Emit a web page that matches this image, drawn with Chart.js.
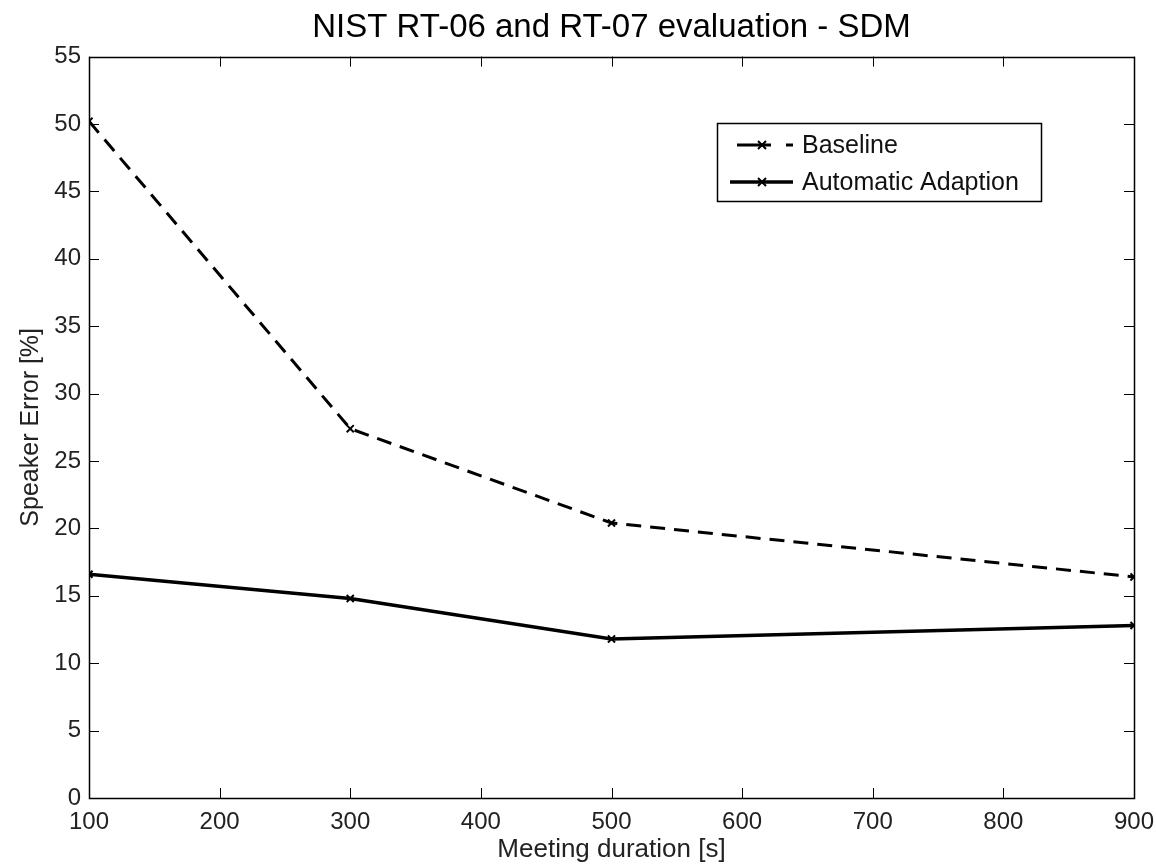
<!DOCTYPE html>
<html>
  <head>
    <meta charset="utf-8">
    <script src="https://cdn.jsdelivr.net/npm/chart.js@4.4.1/dist/chart.umd.min.js"></script>
    <style>
      html, body { margin: 0; padding: 0; background: #fff; }
      #wrap { width: 1156px; height: 865px; }
    </style>
  </head>
  <body>
    <div id="wrap"><canvas id="myChart" width="1156" height="865"></canvas></div>
    <script>
      // data
      var durations = [100, 300, 500, 900];
      var baseline = [50.2, 27.4, 20.4, 16.4];
      var automatic = [16.6, 14.8, 11.8, 12.8];
      var xTicks = [100, 200, 300, 400, 500, 600, 700, 800, 900];
      var yTicks = [0, 5, 10, 15, 20, 25, 30, 35, 40, 45, 50, 55];
      var seriesNames = ["Baseline", "Automatic Adaption"];

      var FONT = "'Liberation Sans', Arial, sans-serif";

      function pts(xs, ys) {
        return xs.map(function(x, i) { return { x: x, y: ys[i] }; });
      }

      // box round the plot + inward ticks on all four sides, like matlab
      var boxTicks = {
        id: "boxTicks",
        afterDraw: function(chart) {
          var ctx = chart.ctx, a = chart.chartArea;
          var xs = chart.scales.x, ys = chart.scales.y;
          var len = 10;
          ctx.save();
          ctx.strokeStyle = "#000";
          ctx.lineWidth = 1;
          ctx.beginPath();
          xTicks.forEach(function(v) {
            var px = Math.round(xs.getPixelForValue(v)) + 0.5;
            ctx.moveTo(px, a.bottom); ctx.lineTo(px, a.bottom - len);
            ctx.moveTo(px, a.top); ctx.lineTo(px, a.top + len);
          });
          yTicks.forEach(function(v) {
            var py = Math.round(ys.getPixelForValue(v)) + 0.5;
            ctx.moveTo(a.left, py); ctx.lineTo(a.left + len, py);
            ctx.moveTo(a.right, py); ctx.lineTo(a.right - len, py);
          });
          ctx.stroke();
          ctx.lineWidth = 1.5;
          ctx.strokeRect(Math.round(a.left) + 0.5, Math.round(a.top) + 0.5,
                         Math.round(a.right - a.left), Math.round(a.bottom - a.top));
          ctx.restore();
        }
      };

      // legend box inside the plot, top right
      var boxLegend = {
        id: "boxLegend",
        afterDraw: function(chart) {
          var ctx = chart.ctx;
          var bx = 717, by = 123, bw = 324, bh = 78;
          ctx.save();
          ctx.fillStyle = "#fff";
          ctx.fillRect(bx, by, bw, bh);
          ctx.strokeStyle = "#000";
          ctx.lineWidth = 1.5;
          ctx.strokeRect(bx + 0.5, by + 0.5, bw, bh);
          chart.data.datasets.forEach(function(ds, i) {
            var cy = by + 22 + i * 37;
            ctx.strokeStyle = "#000";
            ctx.lineWidth = ds.borderWidth;
            ctx.setLineDash(ds.borderDash ? [34, 15, 7, 50] : []);
            ctx.beginPath();
            ctx.moveTo(bx + (ds.borderDash ? 20 : 13), cy);
            ctx.lineTo(bx + 76, cy);
            ctx.stroke();
            ctx.setLineDash([]);
            ctx.lineWidth = 2;
            var mx = bx + 45, r = 4;
            ctx.beginPath();
            ctx.moveTo(mx - r, cy - r); ctx.lineTo(mx + r, cy + r);
            ctx.moveTo(mx + r, cy - r); ctx.lineTo(mx - r, cy + r);
            ctx.stroke();
            ctx.fillStyle = "#111";
            ctx.font = "25px " + FONT;
            ctx.textBaseline = "middle";
            ctx.fillText(ds.label, bx + 85, cy + 1);
          });
          ctx.restore();
        }
      };

      var ctx = document.getElementById("myChart");
      var myChart = new Chart(ctx, {
        type: "line",
        data: {
          datasets: [
            {
              label: seriesNames[0],
              data: pts(durations, baseline),
              borderColor: "#000",
              backgroundColor: "#000",
              borderWidth: 3,
              borderDash: [15, 9],
              pointStyle: "crossRot",
              pointRadius: 5,
              pointBorderWidth: 2,
              tension: 0
            },
            {
              label: seriesNames[1],
              data: pts(durations, automatic),
              borderColor: "#000",
              backgroundColor: "#000",
              borderWidth: 3.5,
              pointStyle: "crossRot",
              pointRadius: 5,
              pointBorderWidth: 2,
              tension: 0
            }
          ]
        },
        options: {
          responsive: false,
          animation: false,
          layout: { padding: { left: 0, right: 22, top: 0, bottom: 0 } },
          plugins: {
            legend: { display: false },
            tooltip: { enabled: false },
            title: {
              display: true,
              fullSize: false,
              text: "NIST RT-06 and RT-07 evaluation - SDM",
              color: "#000",
              font: { family: FONT, size: 33, weight: "normal", lineHeight: 1.2 },
              padding: { top: 8, bottom: 9 }
            }
          },
          scales: {
            x: {
              type: "linear",
              min: 100,
              max: 900,
              afterBuildTicks: function(s) { s.ticks = xTicks.map(function(v) { return { value: v }; }); },
              afterFit: function(s) { s.height = 67; s.paddingLeft = 0; s.paddingRight = 0; },
              grid: { display: false, drawTicks: false },
              border: { display: false },
              ticks: {
                color: "#222",
                padding: 10,
                maxRotation: 0,
                font: { family: FONT, size: 24 }
              },
              title: {
                display: true,
                text: "Meeting duration [s]",
                color: "#222",
                font: { family: FONT, size: 26 },
                padding: { top: 0, bottom: 0 }
              }
            },
            y: {
              type: "linear",
              min: 0,
              max: 55,
              afterBuildTicks: function(s) { s.ticks = yTicks.map(function(v) { return { value: v }; }); },
              afterFit: function(s) { s.width = 89; s.paddingTop = 0; s.paddingBottom = 0; },
              grid: { display: false, drawTicks: false },
              border: { display: false },
              ticks: {
                color: "#222",
                padding: 8,
                font: { family: FONT, size: 24 }
              },
              title: {
                display: true,
                text: "Speaker Error [%]",
                color: "#222",
                font: { family: FONT, size: 25 },
                padding: { top: 16, bottom: 0 }
              }
            }
          }
        },
        plugins: [boxTicks, boxLegend]
      });
    </script>
  </body>
</html>
